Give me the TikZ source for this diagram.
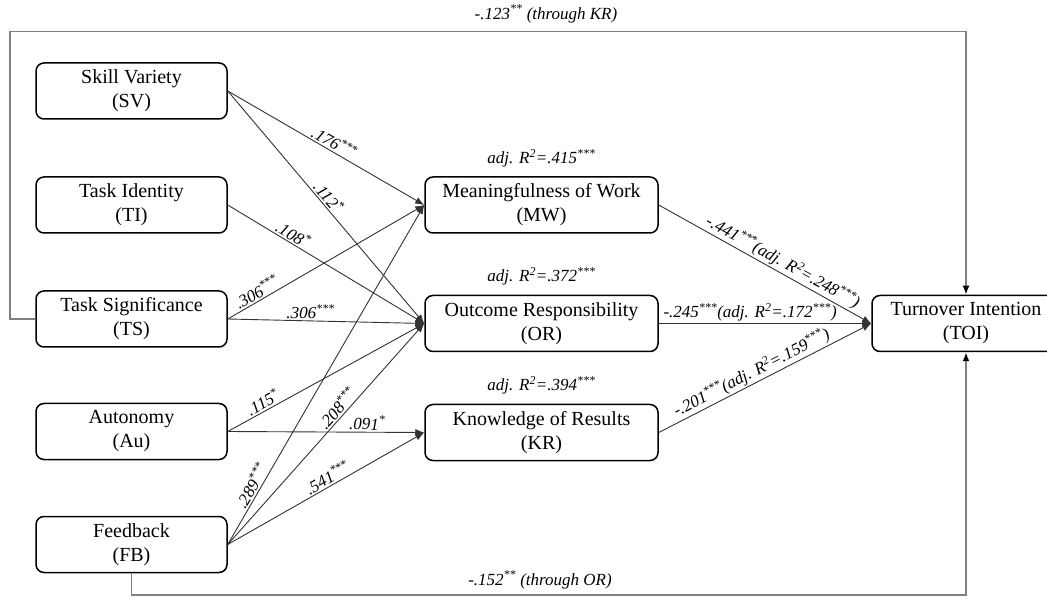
\documentclass[tikz,border=0pt]{standalone}
\usepackage{fontspec}
\setmainfont{Liberation Serif}
\usetikzlibrary{arrows.meta}

\begin{document}
\begin{tikzpicture}[x=1pt,y=-1pt,
  var/.style={draw=black, line width=1.5pt, rounded corners=8pt,
    minimum width=191pt, minimum height=56pt, inner sep=0pt,
    align=center, font=\fontsize{20}{24}\selectfont},
  effect/.style={draw=black!80, line width=0.9pt, -{Latex[length=9pt,width=7pt]}},
  coef/.style={font=\itshape\fontsize{17}{19}\selectfont, sloped, above, inner sep=1.5pt},
  indirect/.style={draw=black!50, line width=1.8pt},
  tip/.style={-{Latex[length=9pt,width=7pt,black]}},
  note/.style={font=\itshape\fontsize{17}{19}\selectfont, inner sep=1pt},
]
\useasboundingbox (0,0) rectangle (1047,601);
\fill[white] (0,0) rectangle (1047,601);

% job characteristics
\node[var] (sv) at (131.5,91)    {Skill Variety\\(SV)};
\node[var] (ti) at (131.5,205)   {Task Identity\\(TI)};
\node[var] (ts) at (131.5,319)   {Task Significance\\(TS)};
\node[var] (au) at (131.5,431.5) {Autonomy\\(Au)};
\node[var] (fb) at (131.5,544.5) {Feedback\\(FB)};

% psychological states
\node[var, minimum width=233pt] (mw) at (541.5,205)   {Meaningfulness of Work\\(MW)};
\node[var, minimum width=233pt] (or) at (541.5,323.5) {Outcome Responsibility\\(OR)};
\node[var, minimum width=233pt] (kr) at (541.5,432.5) {Knowledge of Results\\(KR)};

\node[note, anchor=south] (r2mw) at ([yshift=8pt]mw.north) {adj. R\textsuperscript{2}=.415\textsuperscript{***}};
\node[note, anchor=south] (r2or) at ([yshift=8pt]or.north) {adj. R\textsuperscript{2}=.372\textsuperscript{***}};
\node[note, anchor=south] (r2kr) at ([yshift=8pt]kr.north) {adj. R\textsuperscript{2}=.394\textsuperscript{***}};

% outcome
\begin{scope}
  \clip (0,0) rectangle (1047,601);
  \node[var, minimum width=188pt] (toi) at (966,323.5) {Turnover Intention\\(TOI)};
\end{scope}

% direct effects on the psychological states
\draw[effect] (sv.east) -- node[coef, pos=0.52] {.176\textsuperscript{***}} (mw.west);
\draw[effect] (sv.east) -- node[coef, pos=0.48] {.112\textsuperscript{*}} (or.west);
\draw[effect] (ti.east) -- node[coef, pos=0.31] {.108\textsuperscript{*}} (or.west);
\draw[effect] (ts.east) -- node[coef, pos=0.17] {.306\textsuperscript{***}} (mw.west);
\draw[effect] (ts.east) -- node[coef, pos=0.42] {.306\textsuperscript{***}} (or.west);
\draw[effect] (au.east) -- node[coef, pos=0.20] {.115\textsuperscript{*}} (or.west);
\draw[effect] (au.east) -- node[coef, pos=0.71] {.091\textsuperscript{*}} (kr.west);
\draw[effect] (fb.east) -- node[coef, pos=0.16] {.289\textsuperscript{***}} (mw.west);
\draw[effect] (fb.east) -- node[coef, pos=0.59] {.208\textsuperscript{***}} (or.west);
\draw[effect] (fb.east) -- node[coef, pos=0.53] {.541\textsuperscript{***}} (kr.west);

% effects on turnover intention
\draw[effect] (mw.east) -- node[coef, pos=0.56] {-.441\textsuperscript{***}(adj. R\textsuperscript{2}=.248\textsuperscript{***})} (toi.west);
\draw[effect] (or.east) -- node[coef, pos=0.43] {-.245\textsuperscript{***}(adj. R\textsuperscript{2}=.172\textsuperscript{***})} (toi.west);
\draw[effect] (kr.east) -- node[coef, pos=0.46] {-.201\textsuperscript{***}(adj. R\textsuperscript{2}=.159\textsuperscript{***})} (toi.west);

% indirect effects
\coordinate (topleft) at (10,31.5);
\coordinate (botright) at (966,595);
\draw[indirect, tip] (ts.west) -| (topleft) -| (toi.north);
\draw[indirect, tip] (fb.south) |- (botright) -- (toi.south);
\node[note] (viakr) at (546,14)  {-.123\textsuperscript{**} (through KR)};
\node[note] (viaor) at (540,580) {-.152\textsuperscript{**} (through OR)};
\end{tikzpicture}
\end{document}
